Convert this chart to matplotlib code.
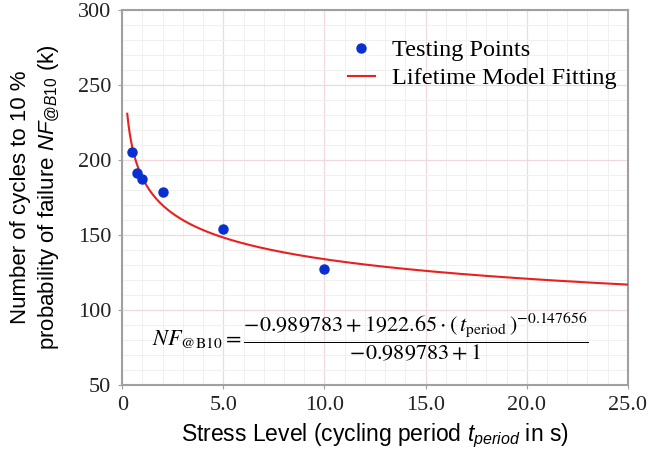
import numpy as np
import matplotlib
matplotlib.use("Agg")
import matplotlib.pyplot as plt
from matplotlib.ticker import MultipleLocator, FuncFormatter

# testing points (cycling period in s, cycles to failure in k)
t_period = [0.5, 0.75, 1.0, 2.0, 5.0, 10.0]
nf_b10 = [205, 191.5, 187, 178.5, 154, 127]

# lifetime model coefficients as printed in the chart
A = -0.989783
B = 1922.65
C = -0.147656
T_START = 0.25
T_END = 25.0

SERIF = "Liberation Serif"
SANS = "Liberation Sans"

plt.rcParams["mathtext.fontset"] = "custom"
plt.rcParams["mathtext.rm"] = SANS
plt.rcParams["mathtext.it"] = SANS + ":italic"


def model(t):
    """Lifetime model in k cycles."""
    return (A + B * t ** C) / (A + 1) / 1000.0


def xfmt(v, pos):
    return "0" if v == 0 else f"{v:.1f}"


fig = plt.figure(figsize=(6.5, 4.55), dpi=100)
ax = fig.add_axes([0.188, 0.154, 0.778, 0.824])

t_fit = np.linspace(T_START, T_END, 400)
ax.plot(t_fit, model(t_fit), color="#e8201e", lw=1.5, label="Lifetime Model Fitting", zorder=3)
ax.plot(t_period, nf_b10, "o", color="#0a2fd0", ms=6.5, label="Testing Points", zorder=4)

ax.set_xlim(0, 25)
ax.set_ylim(50, 300)
ax.xaxis.set_major_locator(MultipleLocator(5))
ax.xaxis.set_minor_locator(MultipleLocator(1))
ax.yaxis.set_major_locator(MultipleLocator(50))
ax.yaxis.set_minor_locator(MultipleLocator(10))
ax.xaxis.set_major_formatter(FuncFormatter(xfmt))
ax.grid(which="major", color="#f0d8dc", lw=0.9)
ax.grid(which="minor", color="#f0f0f0", lw=0.7)
ax.set_axisbelow(True)

for s in ax.spines.values():
    s.set_color("#a0a0a0")
    s.set_linewidth(1.5)
ax.tick_params(which="minor", length=0)
ax.tick_params(which="major", length=3, color="#a0a0a0", labelcolor="#222222", pad=5)
for lab in ax.get_xticklabels() + ax.get_yticklabels():
    lab.set_fontfamily(SERIF)
    lab.set_fontsize(16)

ax.set_xlabel(r"Stress Level (cycling period $t_{period}$ in s)",
              fontfamily=SANS, fontsize=16.5, labelpad=5)
ax.set_ylabel("Number of cycles to 10 %\n" + r"probability of failure $NF_{@B10}$ (k)",
              fontfamily=SANS, fontsize=16, labelpad=11, linespacing=1.35)

handles, labels = ax.get_legend_handles_labels()
ax.legend(handles[::-1], labels[::-1], loc="upper right", frameon=False,
          prop={"family": SERIF, "size": 17.5}, handlelength=1.1, handletextpad=0.7,
          bbox_to_anchor=(1.02, 0.98), labelspacing=0.25)

formula = (r"$NF_{@\mathrm{B10}} = \dfrac{-0.989783 + 1922.65\cdot(\,t_{\mathrm{period}}\,)^{-0.147656}}"
           r"{-0.989783 + \mathit{1}}$")
ax.text(0.49, 0.13, formula, transform=ax.transAxes, ha="center", va="center",
        fontsize=16, math_fontfamily="stix")

fig.savefig("out.png", dpi=100)
